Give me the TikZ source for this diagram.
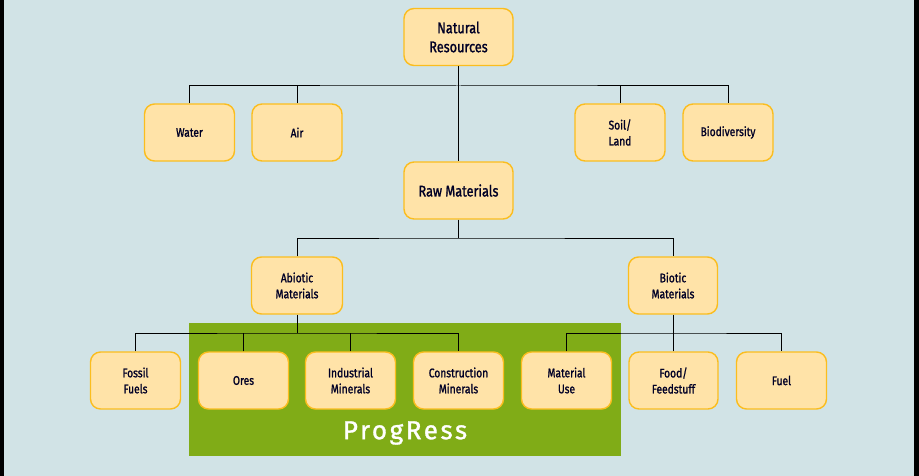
\documentclass[tikz,border=0pt]{standalone}
\usepackage{fontspec}
\setmainfont{Fira Sans}[FakeStretch=0.82,FakeBold=1.3]
\newfontfamily\progfont{Fira Sans}[LetterSpace=10,FakeBold=1.2]
\definecolor{bgc}{HTML}{D1E3E6}
\definecolor{boxfill}{HTML}{FFE3A8}
\definecolor{boxline}{HTML}{FBBD1E}
\definecolor{greenc}{HTML}{80AC17}
\begin{document}
\begin{tikzpicture}[x=1pt,y=-1pt,
  box/.style={draw=boxline,fill=boxfill,line width=1.4pt,rounded corners=10pt,
    minimum width=90pt,minimum height=57pt,align=center,inner sep=2pt,
    text=black!85!blue,font=\fontsize{12.5}{16}\selectfont},
  bigbox/.style={box,minimum width=109pt,font=\fontsize{15.5}{19}\selectfont},
  link/.style={draw=black,line width=1pt}]
\useasboundingbox (0,0) rectangle (919,476);
\fill[bgc] (0,0) rectangle (919,476);
\fill[black] (0,0) rectangle (4,476);
\fill[black] (914,0) rectangle (919,476);
\fill[greenc] (189,323) rectangle (621,456);
\node[text=white,font=\progfont\fontsize{26}{26}\selectfont] (prog) at (405,433) {ProgRess};

\node[bigbox] (nr) at (458.5,37) {Natural\\Resources};
\node[box] (water) at (189.5,132.5) {Water};
\node[box] (air) at (297,132.5) {Air};
\node[box] (soil) at (620,132.5) {Soil/\\Land};
\node[box] (bio) at (728,132.5) {Biodiversity};
\node[bigbox] (raw) at (458.5,190.5) {Raw Materials};
\node[box,minimum width=91pt] (abio) at (297,285.5) {Abiotic\\Materials};
\node[box,minimum width=89pt] (biot) at (673,285.5) {Biotic\\Materials};
\node[box] (fossil) at (135.5,380.5) {Fossil\\Fuels};
\node[box] (ores) at (243.5,380.5) {Ores};
\node[box] (ind) at (350.5,380.5) {Industrial\\Minerals};
\node[box] (cons) at (458.5,380.5) {Construction\\Minerals};
\node[box] (mat) at (566.5,380.5) {Material\\Use};
\node[box,minimum width=89pt] (food) at (673.5,380.5) {Food/\\Feedstuff};
\node[box] (fuel) at (781.5,380.5) {Fuel};

\coordinate (h1) at (458.5,86);
\draw[link] (nr.south) -- (raw.north);
\draw[link] (water.north) |- (h1) -| (bio.north);
\draw[link] (air.north) -- (air.north |- h1);
\draw[link] (soil.north) -- (soil.north |- h1);

\coordinate (h2) at (458.5,238);
\draw[link] (raw.south) -- (h2);
\draw[link] (abio.north) |- (h2) -| (biot.north);

\coordinate (h3) at (297,333);
\draw[link] (abio.south) -- (h3);
\draw[link] (fossil.north) |- (h3) -| (cons.north);
\draw[link] (ores.north) -- (ores.north |- h3);
\draw[link] (ind.north) -- (ind.north |- h3);

\coordinate (h4) at (673,333);
\draw[link] (biot.south) -- (h4);
\draw[link] (mat.north) |- (h4) -| (fuel.north);
\draw[link] (food.north) -- (food.north |- h4);
\end{tikzpicture}
\end{document}
